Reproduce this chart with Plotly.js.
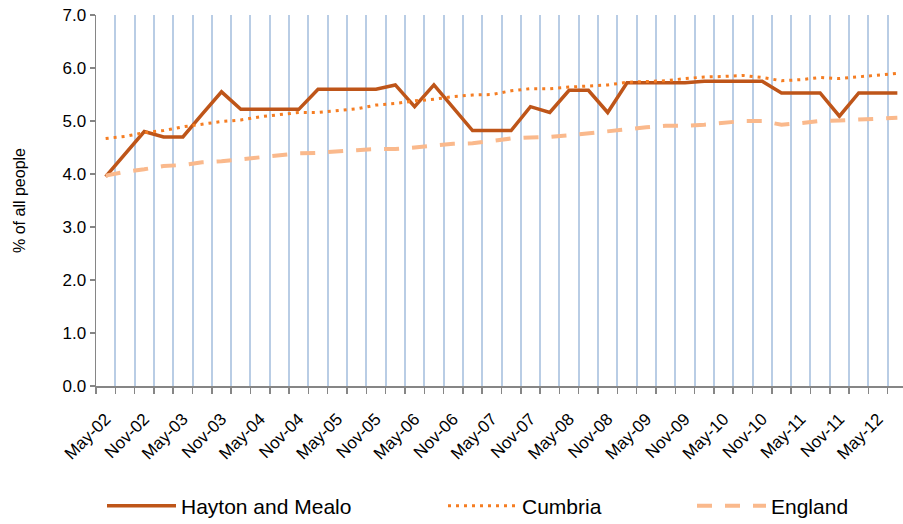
<!DOCTYPE html>
<html>
<head>
<meta charset="utf-8">
<script src="https://cdn.plot.ly/plotly-3.0.1.min.js"></script>
<style>
html,body{margin:0;padding:0;background:#fff;overflow:hidden;}
#chart{width:910px;height:524px;}
</style>
</head>
<body>
<div id="chart"></div>
<script>
// Quarterly categories, May-02 to Aug-12
var categories = [
  "May-02","Aug-02","Nov-02","Feb-03","May-03","Aug-03","Nov-03","Feb-04",
  "May-04","Aug-04","Nov-04","Feb-05","May-05","Aug-05","Nov-05","Feb-06",
  "May-06","Aug-06","Nov-06","Feb-07","May-07","Aug-07","Nov-07","Feb-08",
  "May-08","Aug-08","Nov-08","Feb-09","May-09","Aug-09","Nov-09","Feb-10",
  "May-10","Aug-10","Nov-10","Feb-11","May-11","Aug-11","Nov-11","Feb-12",
  "May-12","Aug-12"
];
var tickLabels = [
  "May-02","Nov-02","May-03","Nov-03","May-04","Nov-04","May-05","Nov-05",
  "May-06","Nov-06","May-07","Nov-07","May-08","Nov-08","May-09","Nov-09",
  "May-10","Nov-10","May-11","Nov-11","May-12"
];
var haytonAndMealo = [
  3.95,4.38,4.80,4.70,4.70,5.13,5.55,5.22,5.22,5.22,5.22,5.60,5.60,5.60,
  5.60,5.68,5.27,5.68,5.25,4.82,4.82,4.82,5.27,5.16,5.58,5.58,5.16,5.72,
  5.72,5.72,5.72,5.75,5.75,5.75,5.75,5.53,5.53,5.53,5.09,5.53,5.53,5.53
];
var cumbria = [
  4.67,4.71,4.78,4.82,4.89,4.94,4.99,5.02,5.08,5.12,5.16,5.16,5.19,5.23,
  5.30,5.33,5.38,5.41,5.46,5.49,5.50,5.57,5.61,5.61,5.64,5.66,5.68,5.73,
  5.75,5.76,5.80,5.83,5.84,5.86,5.82,5.76,5.78,5.82,5.80,5.83,5.87,5.90
];
var england = [
  3.97,4.04,4.09,4.15,4.17,4.22,4.24,4.28,4.31,4.36,4.39,4.40,4.43,4.45,
  4.47,4.47,4.50,4.54,4.57,4.58,4.62,4.67,4.69,4.70,4.73,4.77,4.80,4.84,
  4.88,4.91,4.91,4.93,4.97,5.00,5.00,4.93,4.96,5.00,5.01,5.03,5.04,5.06
];

var xIdx = categories.map(function(c, i){ return i; });
var tickIdx = tickLabels.map(function(l){ return categories.indexOf(l); });

var FONT = '"Liberation Sans", Arial, sans-serif';

var traces = [
  {x: xIdx, y: haytonAndMealo, name: "Hayton and Mealo", type: "scatter", mode: "lines",
   line: {color: "#BE5519", width: 3.5}, legend: "legend", hoverinfo: "skip"},
  {x: xIdx, y: cumbria, name: "Cumbria", type: "scatter", mode: "lines",
   line: {color: "#F57D22", width: 3, dash: "3px,5px"}, legend: "legend2", hoverinfo: "skip"},
  {x: xIdx, y: england, name: "England", type: "scatter", mode: "lines",
   line: {color: "#FAB98C", width: 4, dash: "15px,13px"}, legend: "legend3", hoverinfo: "skip"}
];

function px2x(px){ return (px - 96) / 811; }
function py2y(py){ return (386.5 - py) / 372; }

function legendAt(px){
  return {x: px2x(px), y: py2y(507), xanchor: "left", yanchor: "middle",
          orientation: "h", bgcolor: "rgba(0,0,0,0)", borderwidth: 0,
          itemwidth: 69, font: {family: FONT, size: 21, color: "#000"}};
}

var layout = {
  width: 910, height: 524,
  margin: {l: 96, r: 3, t: 14.5, b: 137.5, autoexpand: false},
  paper_bgcolor: "#fff", plot_bgcolor: "#fff",
  showlegend: true,
  xaxis: {
    automargin: false,
    range: [-0.5, categories.length - 0.5],
    tickmode: "array", tickvals: tickIdx, ticktext: tickLabels,
    tickangle: -45, ticks: "", showgrid: false, zeroline: false,
    showline: true, linecolor: "#868686", linewidth: 1.5,
    ticklabelstandoff: 15,
    tickfont: {family: FONT, size: 17, color: "#000"},
    minor: {tick0: 0.5, dtick: 1, ticks: "outside", ticklen: 6, tickcolor: "#868686",
            tickwidth: 1.5, showgrid: true, gridcolor: "#B9CDE5", gridwidth: 2}
  },
  yaxis: {
    automargin: false,
    range: [0, 7], dtick: 1, tickformat: ".1f",
    ticks: "outside", ticklen: 5, tickcolor: "#868686", tickwidth: 1.5,
    showline: true, linecolor: "#868686", linewidth: 1.5,
    showgrid: false, zeroline: false,
    tickfont: {family: FONT, size: 17, color: "#000"},
    title: {text: "% of all people", font: {family: FONT, size: 16, color: "#000"}, standoff: 33}
  },
  legend: legendAt(102),
  legend2: legendAt(443),
  legend3: legendAt(692)
};

Plotly.newPlot("chart", traces, layout, {staticPlot: true, displayModeBar: false});
</script>
</body>
</html>
